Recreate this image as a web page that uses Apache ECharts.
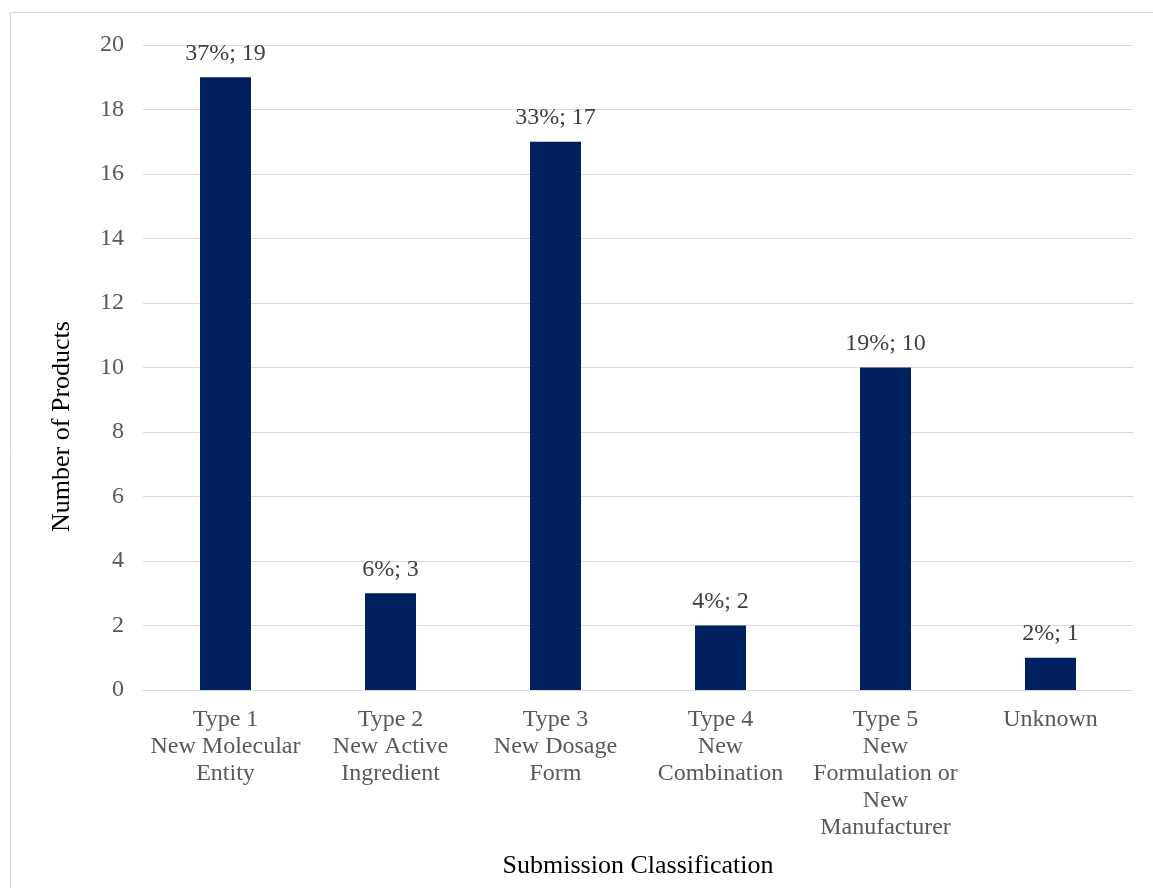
<!DOCTYPE html>
<html>
<head>
<meta charset="utf-8">
<script src="https://cdn.jsdelivr.net/npm/echarts@6/dist/echarts.min.js"></script>
<style>
  html, body { margin: 0; padding: 0; background: #fff; }
  #chart { width: 1153px; height: 888px; }
</style>
</head>
<body>
<div id="chart"></div>
<script>
// Submission classification of products
const categories = [
  'Type 1\nNew Molecular\nEntity',
  'Type 2\nNew Active\nIngredient',
  'Type 3\nNew Dosage\nForm',
  'Type 4\nNew\nCombination',
  'Type 5\nNew\nFormulation or\nNew\nManufacturer',
  'Unknown'
];
const counts = [19, 3, 17, 2, 10, 1];
const shares = ['37%', '6%', '33%', '4%', '19%', '2%'];
const yTicks = [0, 2, 4, 6, 8, 10, 12, 14, 16, 18, 20];

const serif = '"Liberation Serif", "Times New Roman", serif';
const chart = echarts.init(document.getElementById('chart'));

chart.setOption({
  animation: false,
  backgroundColor: '#ffffff',
  textStyle: { fontFamily: serif },
  graphic: [{
    type: 'rect',
    shape: { x: 10.5, y: 12.5, width: 1160, height: 900 },
    style: { fill: 'none', stroke: '#d9d9d9', lineWidth: 1 },
    silent: true
  }],
  grid: { left: 143, right: 20, top: 45, bottom: 198, containLabel: false },
  xAxis: {
    type: 'category',
    data: categories,
    name: 'Submission Classification',
    nameLocation: 'middle',
    nameGap: 163,
    nameTextStyle: { color: '#000000', fontSize: 26, fontFamily: serif },
    axisLine: { show: true, lineStyle: { color: '#d9d9d9', width: 1 } },
    axisTick: { show: false },
    axisLabel: {
      color: '#595959', fontSize: 24, fontFamily: serif,
      lineHeight: 27, margin: 16, interval: 0
    }
  },
  yAxis: {
    type: 'value',
    min: yTicks[0],
    max: yTicks[yTicks.length - 1],
    interval: yTicks[1] - yTicks[0],
    name: 'Number of Products',
    nameLocation: 'middle',
    nameGap: 68,
    nameRotate: 90,
    // title sits a little below the middle of the plot
    nameTextStyle: { color: '#000000', fontSize: 26, fontFamily: serif, padding: [0, 118, 0, 0] },
    axisLine: { show: false },
    axisTick: { show: false },
    splitLine: { lineStyle: { color: '#d9d9d9', width: 1 } },
    axisLabel: { color: '#595959', fontSize: 24, fontFamily: serif, margin: 19 }
  },
  series: [{
    type: 'bar',
    data: counts,
    barWidth: 51,
    itemStyle: { color: '#002060' },
    label: {
      show: true,
      position: 'top',
      distance: 12,
      color: '#404040',
      fontSize: 24,
      fontFamily: serif,
      formatter: p => shares[p.dataIndex] + '; ' + p.value
    }
  }]
});
</script>
</body>
</html>
